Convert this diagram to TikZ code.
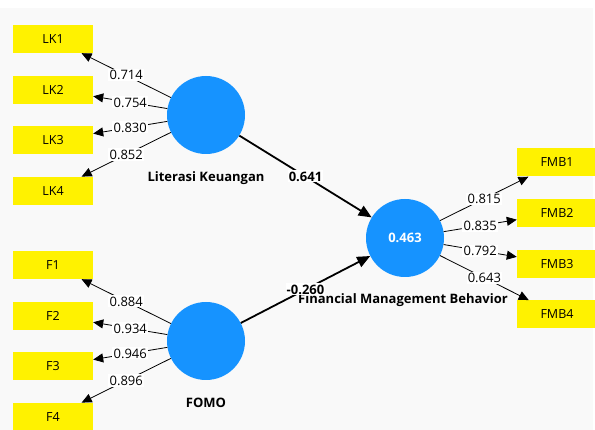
\documentclass[tikz,border=0pt]{standalone}
\usepackage{fontspec}
\setmainfont{Open Sans}
\usetikzlibrary{arrows.meta}
\definecolor{plsblue}{RGB}{22,147,255}
\definecolor{plsbg}{RGB}{249,249,249}
\tikzset{
  ind/.style={fill=yellow, minimum width=80pt, minimum height=28pt, inner sep=0pt,
    font=\fontsize{12.5}{14}\selectfont},
  lv/.style={circle, fill=plsblue, minimum size=78pt, inner sep=0pt},
  load/.style={-{Triangle[length=10pt,width=9pt]}, line width=0.8pt},
  coef/.style={-{Triangle[length=13pt,width=11pt]}, line width=1.8pt},
  val/.style={fill=white, inner sep=1.2pt, font=\fontsize{13}{15}\selectfont},
  lvname/.style={font=\fontsize{13}{15}\selectfont\bfseries}
}
\begin{document}
\begin{tikzpicture}[x=1pt,y=-1pt]
  \useasboundingbox (0,0) rectangle (595,430);
  \fill[plsbg] (0,8) rectangle (593,430);

  \def\block#1#2#3#4#5{
    \foreach \v [count = \i] in {#5} {
      \node[ind] (#2\i) at (#3,{#4+50.6*(\i-1)}) {#2\i};
      \draw[load] (#1) -- node[val] {\v} (#2\i);
    }
  }

  \node[lv] (lk) at (206,115) {};
  \node[lv] (fomo) at (206,341) {};
  \node[lv, text=white, lvname] (fmb) at (405,238) {0.463};
  \node[lvname] at (206,178) {Literasi Keuangan};
  \node[lvname] at (206,403) {FOMO};
  \node[lvname] at (403,300) {Financial Management Behavior};

  \block{lk}{LK}{53}{39}{0.714,0.754,0.830,0.852}
  \block{fomo}{F}{53}{265}{0.884,0.934,0.946,0.896}
  \block{fmb}{FMB}{557}{162.5}{0.815,0.835,0.792,0.643}

  \draw[coef] (lk) -- node[val, lvname] {0.641} (fmb);
  \draw[coef] (fomo) -- node[val, lvname] {-0.260} (fmb);
\end{tikzpicture}
\end{document}
